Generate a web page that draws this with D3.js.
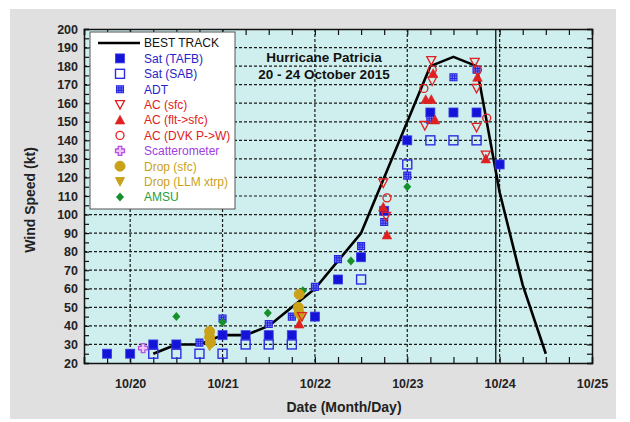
<!DOCTYPE html>
<html><head><meta charset="utf-8">
<script src="https://cdn.jsdelivr.net/npm/d3@7"></script>
<style>body{margin:0;background:#fff;} text{font-family:"Liberation Sans",Arial,sans-serif;}</style>
</head><body><svg id="c" width="630" height="422"></svg>
<script>
// ---- data (day of October, knots) ----
const bestTrackDays = [20.25,20.5,20.75,21.0,21.25,21.5,21.75,22.0,22.25,22.5,22.75,23.0,23.25,23.5,23.75,24.0,24.25,24.5];
const bestTrackKt   = [25,30,30,35,35,40,50,60,75,90,120,150,180,185,180,112,62,25];
const satTAFB = [[19.75,25],[20.0,25],[20.25,30],[20.5,30],[21.0,35],[21.25,35],[21.5,35],[21.75,35],[22.0,45],[22.25,65],[22.5,77],[22.75,102],[23.0,140],[23.25,155],[23.5,155],[23.75,155],[24.0,127]];
const satSAB = [[20.25,25],[20.5,25],[20.75,25],[21.0,25],[21.25,30],[21.5,30],[21.75,30],[22.5,65],[23.0,127],[23.25,140],[23.5,140],[23.75,140]];
const adt = [[20.75,31],[21.0,44],[21.5,41],[21.75,45],[22.0,61],[22.25,76],[22.5,83],[22.75,96],[23.0,121],[23.25,151],[23.5,174],[23.75,178]];
const acSfc = [[21.86,45],[22.74,117],[22.77,99],[23.19,148],[23.26,183],[23.27,172],[23.73,182],[23.75,168],[23.75,147],[23.85,132]];
const acFlt = [[21.83,41],[22.74,104],[22.78,89],[23.2,162],[23.26,162],[23.28,176],[23.3,151],[23.76,174],[23.85,130]];
const acDvk = [[22.78,109],[23.18,168],[23.27,178],[23.76,178],[23.86,152]];
const scat = [[20.14,28]];
const dropSfc = [[20.86,37],[20.86,34],[20.87,31],[21.83,57],[21.82,50],[21.83,47]];
const dropLlm = [[20.86,29],[21.84,44]];
const amsu = [[20.5,45],[21.0,42],[21.49,47],[21.87,59],[22.39,75],[23.0,115]];
const landfallDay = 23.958;
const xTickDays = [20,21,22,23,24,25];
const yTicks = [20,30,40,50,60,70,80,90,100,110,120,130,140,150,160,170,180,190,200];
const legendLabels = ["BEST TRACK","Sat (TAFB)","Sat (SAB)","ADT","AC (sfc)","AC (flt->sfc)","AC (DVK P->W)","Scatterometer","Drop (sfc)","Drop (LLM xtrp)","AMSU"];
const titleLines = ["Hurricane Patricia","20 - 24 October 2015"];

// ---- layout ----
const svg = d3.select("#c");
const L=84,R=592,T=29,B=363;
svg.append("rect").attr("x",10).attr("y",9).attr("width",606).attr("height",410).attr("fill","#e0e0e0");
const x = d3.scaleLinear().domain([19.5,25]).range([L,R]);
const y = d3.scaleLinear().domain([20,200]).range([B,T]);
svg.append("rect").attr("x",L).attr("y",T).attr("width",R-L).attr("height",B-T).attr("fill","#cfefee");

// grid
const grid = svg.append("g").attr("stroke","#1a1a1a").attr("stroke-width",1.2).attr("stroke-dasharray","3,2");
yTicks.filter(v=>v>20&&v<200).forEach(v=>grid.append("line").attr("x1",L).attr("x2",R).attr("y1",y(v)).attr("y2",y(v)));
xTickDays.filter(d=>d<25).forEach(d=>grid.append("line").attr("x1",x(d)).attr("x2",x(d)).attr("y1",T).attr("y2",B));
svg.append("line").attr("x1",x(landfallDay)).attr("x2",x(landfallDay)).attr("y1",T).attr("y2",B).attr("stroke","#111").attr("stroke-width",1.3);

// axes with inside ticks
const fmt = d=>"10/"+d;
const minorX = d3.range(19.5,25.001,0.25);
const minorY = d3.range(20,200.001,5);
svg.append("g").attr("transform",`translate(0,${B})`).call(d3.axisBottom(x).tickValues(minorX).tickSize(-6).tickFormat(""));
svg.append("g").attr("transform",`translate(0,${T})`).call(d3.axisTop(x).tickValues(minorX).tickSize(-6).tickFormat(""));
svg.append("g").attr("transform",`translate(${L},0)`).call(d3.axisLeft(y).tickValues(minorY).tickSize(-5).tickFormat(""));
svg.append("g").attr("transform",`translate(${R},0)`).call(d3.axisRight(y).tickValues(minorY).tickSize(-5).tickFormat(""));
svg.selectAll(".domain").attr("stroke","#111").attr("stroke-width",1.5);
svg.selectAll(".tick line").attr("stroke","#111").attr("stroke-width",1.2);

// tick labels
const xl = svg.append("g").attr("transform",`translate(0,${B})`).call(d3.axisBottom(x).tickValues(xTickDays).tickSize(0).tickPadding(16).tickFormat(fmt));
xl.select(".domain").remove();
xl.selectAll("text").attr("font-size",12.5).attr("font-weight","bold").attr("fill","#222").style("font-family","Liberation Sans, Arial");
const yl = svg.append("g").attr("transform",`translate(${L},0)`).call(d3.axisLeft(y).tickValues(yTicks).tickSize(0).tickPadding(6));
yl.select(".domain").remove();
yl.selectAll("text").attr("font-size",12.5).attr("font-weight","bold").attr("fill","#222").style("font-family","Liberation Sans, Arial");

svg.append("text").attr("x",344).attr("y",412).attr("text-anchor","middle").attr("font-size",14).attr("font-weight","bold").attr("fill","#222").text("Date (Month/Day)");
svg.append("text").attr("transform","translate(35,200) rotate(-90)").attr("text-anchor","middle").attr("font-size",14).attr("font-weight","bold").attr("fill","#222").text("Wind Speed (kt)");

// best track
const bt = bestTrackDays.map((d,i)=>[d,bestTrackKt[i]]);
svg.append("path").datum(bt).attr("d",d3.line().x(d=>x(d[0])).y(d=>y(d[1]))).attr("fill","none").attr("stroke","#000").attr("stroke-width",2.6).attr("stroke-linejoin","round");

// symbols
const BLUE="#1414d8", RED="#e02020", PURP="#b552e6", GOLD="#c9a21a", GREEN="#15902a";
function sym(g,type,cx,cy){
  switch(type){
    case "tafb": g.append("rect").attr("x",cx-4.5).attr("y",cy-4.5).attr("width",9).attr("height",9).attr("fill",BLUE).attr("stroke","#3a3ae8").attr("stroke-width",0.8); break;
    case "sab": g.append("rect").attr("x",cx-4.5).attr("y",cy-4.5).attr("width",9).attr("height",9).attr("fill","none").attr("stroke","#2c2ce6").attr("stroke-width",1.4); break;
    case "adt": g.append("path").attr("d",`M${cx-3.5},${cy-3.5}h7v7h-7z M${cx-3.5},${cy-1.2}h7 M${cx-3.5},${cy+1.2}h7 M${cx-1.2},${cy-3.5}v7 M${cx+1.2},${cy-3.5}v7`).attr("fill","#8a8af0").attr("stroke","#2626e0").attr("stroke-width",1.1); break;
    case "acsfc": g.append("path").attr("d",`M${cx-4.5},${cy-4}L${cx+4.5},${cy-4}L${cx},${cy+4.5}Z`).attr("fill","none").attr("stroke",RED).attr("stroke-width",1.3); break;
    case "acflt": g.append("path").attr("d",`M${cx-4.8},${cy+4}L${cx+4.8},${cy+4}L${cx},${cy-4.8}Z`).attr("fill",RED).attr("stroke",RED).attr("stroke-width",0.6); break;
    case "dvk": g.append("circle").attr("cx",cx).attr("cy",cy).attr("r",4).attr("fill","none").attr("stroke",RED).attr("stroke-width",1.3); break;
    case "scat": g.append("path").attr("d",`M${cx-1.8},${cy-4.5}h3.6v2.7h2.7v3.6h-2.7v2.7h-3.6v-2.7h-2.7v-3.6h2.7z`).attr("fill","#f0c8f8").attr("stroke",PURP).attr("stroke-width",1.3); break;
    case "dropsfc": g.append("circle").attr("cx",cx).attr("cy",cy).attr("r",5).attr("fill",GOLD).attr("stroke",GOLD); break;
    case "dropllm": g.append("path").attr("d",`M${cx-4.5},${cy-4}L${cx+4.5},${cy-4}L${cx},${cy+4.5}Z`).attr("fill",GOLD).attr("stroke",GOLD); break;
    case "amsu": g.append("path").attr("d",`M${cx},${cy-4.5}L${cx+4},${cy}L${cx},${cy+4.5}L${cx-4},${cy}Z`).attr("fill",GREEN); break;
  }
}
const series = [["sab",satSAB],["tafb",satTAFB],["adt",adt],["amsu",amsu],["dropsfc",dropSfc],["dropllm",dropLlm],["scat",scat],["acsfc",acSfc],["acflt",acFlt],["dvk",acDvk]];
const pg = svg.append("g");
series.forEach(([t,arr])=>arr.forEach(d=>sym(pg,t,x(d[0]),y(d[1]))));

// legend
const lg = svg.append("g");
lg.append("rect").attr("x",90).attr("y",32).attr("width",145).attr("height",177).attr("fill","#fff").attr("stroke","#555").attr("stroke-width",1);
const legTypes = [null,"tafb","sab","adt","acsfc","acflt","dvk","scat","dropsfc","dropllm","amsu"];
const legColors = ["#111","#2525c8","#2525c8","#2525c8",RED,RED,RED,"#a040e0","#c9a21a","#c9a21a","#25a040"];
legendLabels.forEach((lab,i)=>{
  const yy = 43 + i*15.4;
  if(i===0) lg.append("line").attr("x1",98).attr("x2",140).attr("y1",yy).attr("y2",yy).attr("stroke","#000").attr("stroke-width",2.6);
  else sym(lg,legTypes[i],120,yy);
  lg.append("text").attr("x",144).attr("y",yy+4.3).attr("font-size",12).attr("fill",legColors[i]).text(lab);
});

// title
svg.append("text").attr("x",324).attr("y",62).attr("text-anchor","middle").attr("font-size",13.5).attr("font-weight","bold").attr("fill","#111").text(titleLines[0]);
svg.append("text").attr("x",324).attr("y",79).attr("text-anchor","middle").attr("font-size",13.5).attr("font-weight","bold").attr("fill","#111").text(titleLines[1]);
</script></body></html>
